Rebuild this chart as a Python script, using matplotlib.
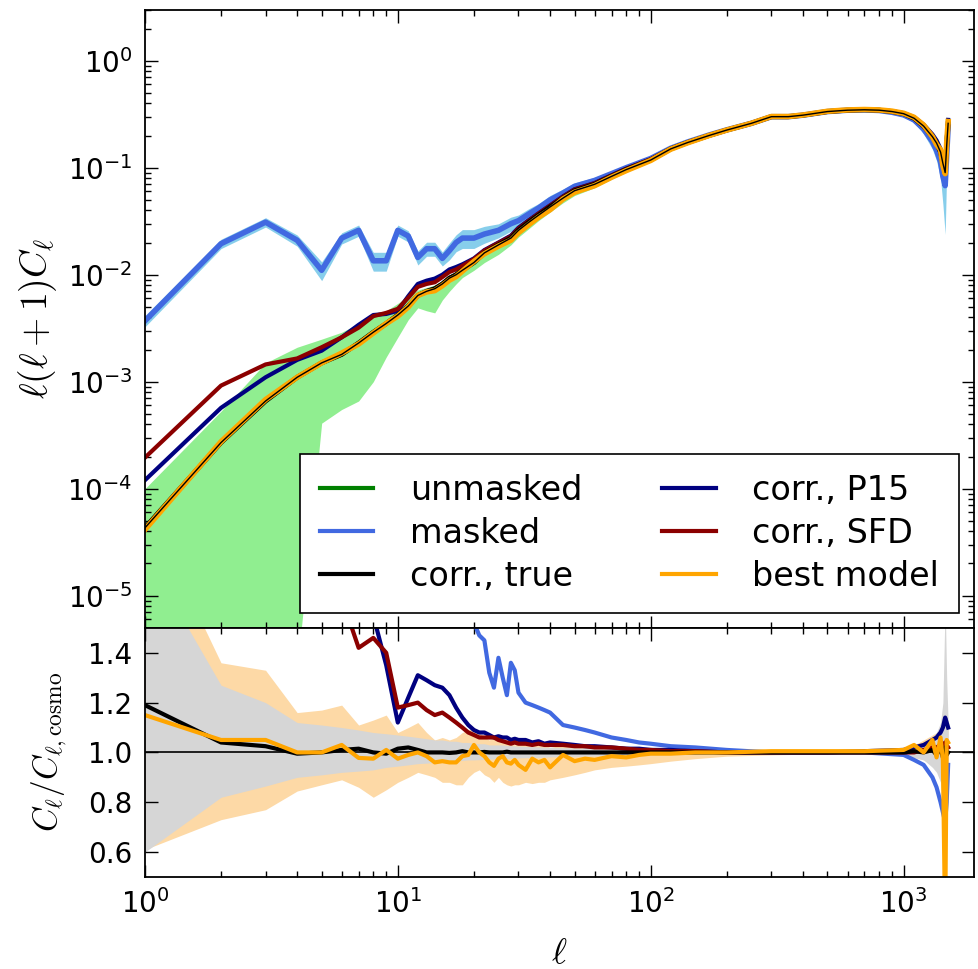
import numpy as np
import matplotlib
matplotlib.use('Agg')
import matplotlib.pyplot as plt

plt.rcParams['mathtext.fontset'] = 'cm'
plt.rcParams['font.family'] = 'DejaVu Sans'

# ---- top panel data: l(l+1)C_l ----
ell_top = [1, 2, 3, 4, 5, 6, 7, 8, 9, 10, 11, 12, 13, 14, 15, 16, 17, 18, 20, 22,
           25, 28, 30, 33, 36, 40, 45, 50, 60, 70, 80, 100, 120, 140, 170, 200, 250,
           300, 350, 400, 500, 600, 700, 800, 900, 1000, 1100, 1200, 1300, 1350,
           1400, 1430, 1460, 1480, 1500]

d_true = [4.3e-5, 2.7e-4, 6.6e-4, 1.1e-3, 1.5e-3, 1.8e-3, 2.3e-3, 2.9e-3, 3.5e-3, 4.2e-3,
          5.1e-3, 6.4e-3, 7.0e-3, 7.4e-3, 8.2e-3, 9.3e-3, 1.0e-2, 1.1e-2, 1.3e-2, 1.6e-2,
          1.9e-2, 2.2e-2, 2.6e-2, 3.1e-2, 3.6e-2, 4.3e-2, 5.2e-2, 6.1e-2, 7.0e-2, 8.3e-2,
          9.6e-2, 0.118, 0.15, 0.172, 0.2, 0.225, 0.26, 0.30, 0.30, 0.31, 0.335, 0.345,
          0.348, 0.345, 0.335, 0.32, 0.29, 0.245, 0.195, 0.17, 0.14, 0.11, 0.09, 0.16, 0.26]

d_best = [4.15e-5, 2.75e-4, 6.8e-4, 1.1e-3, 1.5e-3, 1.85e-3, 2.25e-3, 2.85e-3, 3.5e-3, 4.1e-3,
          5.0e-3, 6.4e-3, 6.9e-3, 7.1e-3, 7.9e-3, 8.9e-3, 9.6e-3, 1.08e-2, 1.33e-2, 1.57e-2,
          1.85e-2, 2.1e-2, 2.47e-2, 2.95e-2, 3.45e-2, 4.05e-2, 5.1e-2, 5.9e-2, 6.8e-2, 8.15e-2,
          9.4e-2, 0.117, 0.149, 0.171, 0.2, 0.225, 0.26, 0.301, 0.301, 0.311, 0.337, 0.347,
          0.35, 0.347, 0.338, 0.323, 0.296, 0.25, 0.195, 0.165, 0.147, 0.105, 0.088, 0.17, 0.27]

d_p15 = [1.2e-4, 5.7e-4, 1.1e-3, 1.6e-3, 1.95e-3, 2.6e-3, 3.4e-3, 4.2e-3, 4.3e-3, 4.6e-3,
         6.3e-3, 8.2e-3, 8.8e-3, 9.2e-3, 1.0e-2, 1.12e-2, 1.18e-2, 1.25e-2, 1.42e-2, 1.7e-2,
         2.0e-2, 2.32e-2, 2.75e-2, 3.25e-2, 3.75e-2, 4.45e-2, 5.4e-2, 6.3e-2, 7.2e-2, 8.5e-2,
         9.8e-2, 0.12, 0.151, 0.173, 0.201, 0.226, 0.26, 0.30, 0.30, 0.31, 0.335, 0.345,
         0.349, 0.347, 0.338, 0.324, 0.297, 0.253, 0.205, 0.18, 0.15, 0.12, 0.1, 0.18, 0.28]

d_sfd = [1.95e-4, 9.2e-4, 1.45e-3, 1.65e-3, 2.1e-3, 2.6e-3, 3.2e-3, 4.1e-3, 4.4e-3, 4.8e-3,
         6.1e-3, 7.7e-3, 8.2e-3, 8.5e-3, 9.5e-3, 1.06e-2, 1.12e-2, 1.21e-2, 1.4e-2, 1.68e-2,
         1.98e-2, 2.28e-2, 2.7e-2, 3.2e-2, 3.72e-2, 4.42e-2, 5.35e-2, 6.25e-2, 7.15e-2, 8.45e-2,
         9.75e-2, 0.12, 0.15, 0.172, 0.2, 0.225, 0.26, 0.30, 0.30, 0.31, 0.335, 0.345,
         0.348, 0.345, 0.335, 0.32, 0.29, 0.245, 0.195, 0.17, 0.14, 0.11, 0.09, 0.16, 0.26]

d_masked = [3.7e-3, 1.95e-2, 3.1e-2, 2.1e-2, 1.1e-2, 2.2e-2, 2.6e-2, 1.35e-2, 1.35e-2, 2.6e-2,
            2.3e-2, 1.45e-2, 1.75e-2, 1.75e-2, 1.42e-2, 1.68e-2, 2.0e-2, 2.2e-2, 2.2e-2, 2.4e-2,
            2.6e-2, 3.0e-2, 3.2e-2, 3.7e-2, 4.2e-2, 5.0e-2, 5.8e-2, 6.7e-2, 7.6e-2, 8.8e-2,
            0.1, 0.122, 0.152, 0.174, 0.202, 0.226, 0.26, 0.30, 0.30, 0.31, 0.335, 0.345,
            0.347, 0.343, 0.33, 0.312, 0.28, 0.23, 0.175, 0.145, 0.113, 0.083, 0.068, 0.13, 0.24]

# fractional width of the masked error band
masked_err = [0.12, 0.1, 0.1, 0.12, 0.2, 0.12, 0.12, 0.2, 0.2, 0.12,
              0.12, 0.15, 0.15, 0.15, 0.15, 0.18, 0.18, 0.2, 0.2, 0.18,
              0.15, 0.15, 0.13, 0.12, 0.1, 0.1, 0.09, 0.08, 0.07, 0.06,
              0.06, 0.05, 0.04, 0.04, 0.04, 0.04, 0.04, 0.04, 0.04, 0.04, 0.04, 0.04,
              0.04, 0.04, 0.04, 0.04, 0.06, 0.1, 0.15, 0.2, 0.3, 0.45, 0.65, 0.3, 0.15]

unmasked_hi = [1.0e-4, 5.3e-4, 1.5e-3, 2.1e-3, 2.5e-3, 2.9e-3, 3.5e-3, 4.2e-3, 4.6e-3, 5.4e-3,
               6.3e-3, 7.2e-3, 7.6e-3, 8.0e-3, 8.8e-3, 9.8e-3, 1.06e-2, 1.15e-2, 1.35e-2, 1.6e-2,
               1.9e-2, 2.3e-2, 2.7e-2, 3.2e-2, 3.7e-2, 4.4e-2, 5.3e-2, 6.2e-2, 7.2e-2, 8.5e-2,
               9.8e-2, 0.12, 0.152, 0.175, 0.203, 0.228, 0.263, 0.303, 0.303, 0.313, 0.338, 0.348,
               0.351, 0.348, 0.338, 0.323, 0.293, 0.248, 0.198, 0.173, 0.143, 0.113, 0.093, 0.165, 0.27]

unmasked_lo = [1e-8, 1e-8, 1e-8, 2e-6, 4.1e-4, 5.5e-4, 6.6e-4, 1.0e-3, 1.7e-3, 2.6e-3,
               3.8e-3, 4.9e-3, 4.6e-3, 4.4e-3, 5.8e-3, 7.0e-3, 8.2e-3, 9.4e-3, 1.1e-2, 1.3e-2,
               1.55e-2, 1.9e-2, 2.25e-2, 2.7e-2, 3.2e-2, 3.85e-2, 4.7e-2, 5.5e-2, 6.5e-2, 7.8e-2,
               9.1e-2, 0.113, 0.144, 0.166, 0.195, 0.22, 0.255, 0.295, 0.295, 0.305, 0.33, 0.34,
               0.343, 0.34, 0.33, 0.315, 0.285, 0.24, 0.19, 0.165, 0.135, 0.105, 0.085, 0.15, 0.25]

# ---- bottom panel data: C_l / C_l,cosmo ----
ell_r = list(range(1, 31)) + [32, 34, 36, 38, 40, 45, 50, 55, 60, 70, 80, 90, 100, 120, 150,
                              200, 300, 500, 700, 1000, 1100, 1200, 1300, 1350, 1400, 1430,
                              1460, 1480, 1500]

r_true = [1.19, 1.04, 1.025, 0.995, 1.0, 1.01, 1.015, 1.0, 0.995, 1.015,
          1.02, 1.01, 1.0, 1.0, 1.0, 0.998, 1.0, 1.005, 1.0, 1.0,
          1.0, 1.002, 1.0, 1.0, 1.0, 1.0, 1.003, 1.0, 1.0, 1.0,
          1.0, 1.0, 1.0, 1.0, 1.0,
          1.0, 1.0, 1.0, 1.0, 1.0, 1.0, 1.0, 1.0, 1.0, 1.0, 1.0, 1.0, 1.0, 1.0, 1.0,
          1.005, 1.0, 1.01, 0.99, 1.02, 0.98, 1.02, 0.99, 1.0]

r_best = [1.15, 1.05, 1.05, 1.0, 1.0, 1.03, 0.978, 0.975, 1.01, 0.975,
          0.99, 1.0, 0.985, 0.96, 0.965, 0.96, 0.96, 0.985, 0.99, 1.03,
          1.0, 0.985, 0.96, 0.946, 0.975, 0.985, 0.96, 0.955, 0.97, 0.95,
          0.93, 0.975, 0.96, 0.97, 0.94,
          0.99, 0.965, 0.975, 0.97, 0.985, 0.98, 0.99, 0.995, 0.995, 1.0, 1.0, 1.005, 1.005,
          1.005, 1.01, 1.03, 1.0, 1.05, 0.98, 1.06, 0.97, 0.3, 1.05, 1.04]

r_p15 = [2.8, 2.1, 1.75, 1.6, 1.6, 1.65, 1.7, 1.55, 1.35, 1.12,
         1.22, 1.31, 1.29, 1.27, 1.26, 1.23, 1.18, 1.14, 1.11, 1.09,
         1.08, 1.08, 1.07, 1.06, 1.065, 1.06, 1.06, 1.05, 1.055, 1.05,
         1.05, 1.04, 1.045, 1.035, 1.04,
         1.035, 1.03, 1.025, 1.025, 1.02, 1.015, 1.015, 1.01, 1.01, 1.005, 1.0, 1.0, 1.0,
         1.005, 1.01, 1.02, 1.03, 1.05, 1.06, 1.08, 1.1, 1.14, 1.12, 1.1]

r_sfd = [4.5, 3.4, 2.2, 1.6, 1.6, 1.62, 1.42, 1.46, 1.40, 1.18,
         1.19, 1.20, 1.17, 1.15, 1.16, 1.14, 1.12, 1.10, 1.08, 1.07,
         1.06, 1.06, 1.06, 1.06, 1.05, 1.045, 1.04, 1.035, 1.04, 1.035,
         1.035, 1.03, 1.035, 1.03, 1.03,
         1.03, 1.025, 1.025, 1.02, 1.02, 1.015, 1.01, 1.01, 1.005, 1.005, 1.0, 1.0, 1.0,
         1.0, 1.0, 1.0, 1.01, 1.02, 1.02, 1.03, 1.03, 1.04, 1.03, 1.02]

r_masked = [86, 72, 47, 19, 7.3, 12, 11, 4.7, 3.9, 6.2,
            4.5, 2.3, 2.5, 2.4, 1.75, 1.8, 1.9, 2.0, 1.9, 1.52,
            1.47, 1.45, 1.32, 1.26, 1.38, 1.3, 1.23, 1.36, 1.33, 1.24,
            1.2, 1.19, 1.18, 1.17, 1.16,
            1.11, 1.10, 1.09, 1.08, 1.06, 1.05, 1.04, 1.035, 1.025, 1.02, 1.01, 1.0, 1.0,
            1.0, 0.99, 0.97, 0.95, 0.9, 0.86, 0.8, 0.76, 0.72, 0.8, 0.95]

true_hi = [1.8, 1.27, 1.2, 1.12, 1.11, 1.1, 1.09, 1.08, 1.075, 1.07,
           1.065, 1.06, 1.055, 1.05, 1.05, 1.045, 1.045, 1.04, 1.04, 1.035,
           1.035, 1.035, 1.03, 1.03, 1.03, 1.03, 1.028, 1.027, 1.026, 1.025,
           1.024, 1.023, 1.022, 1.021, 1.02,
           1.019, 1.018, 1.017, 1.016, 1.015, 1.014, 1.013, 1.012, 1.01, 1.008, 1.007, 1.005,
           1.005, 1.006, 1.01, 1.02, 1.03, 1.06, 1.08, 1.12, 1.2, 1.6, 1.3, 1.12]

true_lo = [0.6, 0.82, 0.865, 0.9, 0.91, 0.92, 0.925, 0.93, 0.94, 0.945,
           0.95, 0.955, 0.957, 0.96, 0.962, 0.964, 0.966, 0.968, 0.97, 0.97,
           0.971, 0.972, 0.973, 0.974, 0.975, 0.975, 0.976, 0.977, 0.977, 0.978,
           0.979, 0.98, 0.98, 0.981, 0.982,
           0.983, 0.984, 0.985, 0.986, 0.987, 0.988, 0.989, 0.99, 0.991, 0.992, 0.993, 0.995,
           0.995, 0.994, 0.99, 0.98, 0.97, 0.94, 0.92, 0.88, 0.8, 0.45, 0.7, 0.88]

best_hi = [2.0, 1.36, 1.33, 1.16, 1.17, 1.19, 1.11, 1.13, 1.15, 1.08,
           1.1, 1.12, 1.08, 1.05, 1.06, 1.05, 1.06, 1.08, 1.09, 1.10,
           1.08, 1.06, 1.05, 1.06, 1.05, 1.04, 1.05, 1.04, 1.03, 1.04,
           1.03, 1.035, 1.03, 1.03, 1.02,
           1.03, 1.02, 1.02, 1.018, 1.015, 1.013, 1.012, 1.01, 1.008, 1.007, 1.006, 1.005,
           1.006, 1.008, 1.02, 1.03, 1.05, 1.07, 1.08, 1.1, 1.12, 1.15, 1.12, 1.1]

best_lo = [0.61, 0.73, 0.77, 0.845, 0.87, 0.89, 0.86, 0.82, 0.85, 0.88,
           0.9, 0.92, 0.91, 0.9, 0.88, 0.88, 0.87, 0.87, 0.9, 0.92,
           0.93, 0.91, 0.9, 0.88, 0.9, 0.88, 0.87, 0.865, 0.87, 0.87,
           0.88, 0.875, 0.88, 0.88, 0.89,
           0.9, 0.91, 0.92, 0.93, 0.94, 0.945, 0.95, 0.955, 0.965, 0.975, 0.985, 0.99,
           0.995, 0.995, 0.99, 0.98, 0.97, 0.95, 0.93, 0.9, 0.85, 0.4, 0.85, 0.95]

# ---- figure ----
fig = plt.figure(figsize=(9.79, 9.69), dpi=100)
ax1 = fig.add_axes([0.148, 0.352, 0.847, 0.638])
ax2 = fig.add_axes([0.148, 0.095, 0.847, 0.257], sharex=ax1)

d_masked_a = np.array(d_masked)
m_err = np.array(masked_err)

ax1.fill_between(ell_top, unmasked_lo, unmasked_hi, color='#90ee90', lw=0)
ax1.fill_between(ell_top, d_masked_a * (1 - m_err), d_masked_a * (1 + m_err),
                 color='skyblue', lw=0)
ax1.plot(ell_top, d_true, color='green', lw=3, label='unmasked')
ax1.plot(ell_top, d_masked, color='royalblue', lw=4, label='masked')
ax1.plot(ell_top, d_p15, color='navy', lw=3, label='corr., P15')
ax1.plot(ell_top, d_sfd, color='darkred', lw=3, label='corr., SFD')
ax1.plot(ell_top, d_true, color='k', lw=3.5, label='corr., true')
ax1.plot(ell_top, d_best, color='orange', lw=4, label='best model')
ax1.plot(ell_top, d_true, color='k', lw=1.0)

ax1.set_xscale('log')
ax1.set_yscale('log')
ax1.set_xlim(1, 1900)
ax1.set_ylim(5e-6, 3)
ax1.set_ylabel(r'$\ell(\ell+1)C_\ell$', fontsize=27, labelpad=6)

h, l = ax1.get_legend_handles_labels()
order = [l.index(n) for n in ['unmasked', 'masked', 'corr., true',
                              'corr., P15', 'corr., SFD', 'best model']]
leg = ax1.legend([h[i] for i in order], [l[i] for i in order], ncol=2,
                 loc='lower right', fontsize=24, fancybox=False, framealpha=1,
                 edgecolor='k', handlelength=1.6, columnspacing=2.4,
                 borderaxespad=0.45, handletextpad=1.1, labelspacing=0.3,
                 borderpad=0.6)
leg.get_frame().set_linewidth(1.2)
for line in leg.get_lines():
    line.set_linewidth(3)

# bottom panel
ax2.fill_between(ell_r, best_lo, best_hi, color='#fdd9a6', lw=0)
ax2.fill_between(ell_r, true_lo, true_hi, color='#d6d6d6', lw=0)
ax2.axhline(1.0, color='k', lw=1.2)
ax2.plot(ell_r, r_masked, color='royalblue', lw=3)
ax2.plot(ell_r, r_p15, color='navy', lw=3)
ax2.plot(ell_r, r_sfd, color='darkred', lw=3)
ax2.plot(ell_r, r_true, color='k', lw=3)
ax2.plot(ell_r, r_best, color='orange', lw=3)
ax2.set_ylim(0.5, 1.5)
ax2.set_yticks([0.6, 0.8, 1.0, 1.2, 1.4])
ax2.set_ylabel(r'$C_\ell/C_{\ell,\rm cosmo}$', fontsize=24, labelpad=14)
ax2.set_xlabel(r'$\ell$', fontsize=26, labelpad=12)

for ax in (ax1, ax2):
    ax.tick_params(which='both', direction='in', top=True, right=True, labelsize=20)
    ax.tick_params(which='major', length=9, width=1, pad=9)
    ax.tick_params(which='minor', length=4.5, width=1)
    for s in ax.spines.values():
        s.set_linewidth(1.3)
plt.setp(ax1.get_xticklabels(), visible=False)

fig.savefig('out.png', dpi=100, facecolor='white')
